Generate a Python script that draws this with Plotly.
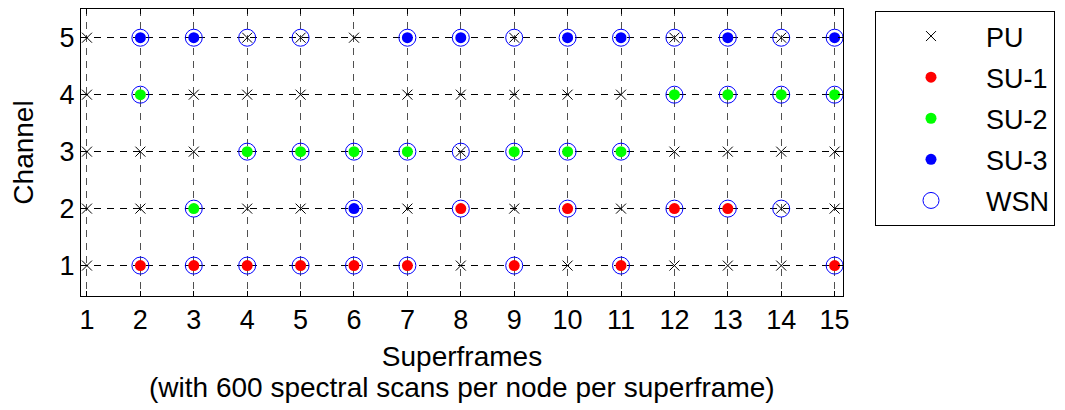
import plotly.graph_objects as go

# ---- data ----
superframes = list(range(1, 16))
channels = [1, 2, 3, 4, 5]

pu_x = [1, 4, 5, 6, 9, 12, 14,
        1, 3, 4, 5, 7, 8, 9, 10, 11,
        1, 2, 3, 8, 12, 13, 14, 15,
        1, 2, 4, 5, 7, 9, 11, 14, 15,
        1, 8, 10, 12, 13, 14]
pu_y = [5] * 7 + [4] * 9 + [3] * 8 + [2] * 9 + [1] * 6

su1_x = [2, 3, 4, 5, 6, 7, 8, 9, 10, 11, 12, 13, 15]
su1_y = [1, 1, 1, 1, 1, 1, 2, 1, 2, 1, 2, 2, 1]

su2_x = [2, 3, 4, 5, 6, 7, 9, 10, 11, 12, 13, 14, 15]
su2_y = [4, 2, 3, 3, 3, 3, 3, 3, 3, 4, 4, 4, 4]

su3_x = [2, 3, 6, 7, 8, 10, 11, 13, 15]
su3_y = [5, 5, 2, 5, 5, 5, 5, 5, 5]

wsn_extra_x = [4, 5, 9, 12, 14, 8, 14]
wsn_extra_y = [5, 5, 5, 5, 5, 3, 2]
wsn_x = su1_x + su2_x + su3_x + wsn_extra_x
wsn_y = su1_y + su2_y + su3_y + wsn_extra_y

FONT = "Liberation Sans, Arial, sans-serif"
FS_TICK = 27
FS_TITLE = 28
FS_LEG = 27

fig = go.Figure()
fig.add_trace(go.Scatter(x=pu_x, y=pu_y, mode="markers", name="PU", legendgroup="a",
                         marker=dict(symbol="x-thin-open", size=10, color="black",
                                     line=dict(width=1, color="black"))))
fig.add_trace(go.Scatter(x=su1_x, y=su1_y, mode="markers", name="SU-1", legendgroup="b",
                         marker=dict(symbol="circle", size=11, color="#FF0000", line=dict(width=0))))
fig.add_trace(go.Scatter(x=su2_x, y=su2_y, mode="markers", name="SU-2", legendgroup="c",
                         marker=dict(symbol="circle", size=11, color="#00FF00", line=dict(width=0))))
fig.add_trace(go.Scatter(x=su3_x, y=su3_y, mode="markers", name="SU-3", legendgroup="d",
                         marker=dict(symbol="circle", size=11, color="#0000FF", line=dict(width=0))))
fig.add_trace(go.Scatter(x=wsn_x, y=wsn_y, mode="markers", name="WSN", legendgroup="e",
                         marker=dict(symbol="circle-open", size=17, color="#0000FF",
                                     line=dict(width=1, color="#0000FF"))))

# page body has an 8px margin, so the figure is 8px smaller and shifted
fig.update_layout(
    width=1057, height=402,
    margin=dict(l=73, r=222, t=1, b=114, autoexpand=False),
    paper_bgcolor="white", plot_bgcolor="white",
    font=dict(family=FONT, size=FS_TICK, color="black"),
    showlegend=True,
    legend=dict(x=794 / 762, xanchor="left", y=285 / 287, yanchor="top",
                bordercolor="black", borderwidth=1, bgcolor="white",
                font=dict(size=FS_LEG), itemwidth=100, tracegroupgap=3,
                traceorder="grouped"),
    xaxis=dict(range=[0.888, 15.157], tickmode="array", tickvals=superframes,
               ticktext=[str(v) for v in superframes], automargin=False,
               showgrid=True, gridcolor="#505050", gridwidth=1, griddash="7px,6px",
               showline=True, linecolor="black", linewidth=1, mirror="ticks",
               ticks="inside", ticklen=5, tickcolor="black", zeroline=False,
               tickfont=dict(size=FS_TICK),
               title=dict(text="Superframes", standoff=11, font=dict(size=FS_TITLE))),
    yaxis=dict(range=[0.466, 5.504], tickmode="array", tickvals=channels,
               ticktext=[str(v) for v in channels], automargin=False,
               showgrid=True, gridcolor="black", gridwidth=1, griddash="7px,6px",
               showline=True, linecolor="black", linewidth=1, mirror="ticks",
               ticks="inside", ticklen=5, tickcolor="black", zeroline=False,
               tickfont=dict(size=FS_TICK),
               title=dict(text="Channel", standoff=20, font=dict(size=FS_TITLE))),
)
fig.add_annotation(text="(with 600 spectral scans per node per superframe)",
                   xref="paper", yref="paper", x=0.5, y=0.0, yshift=-91,
                   xanchor="center", yanchor="middle", showarrow=False,
                   font=dict(size=FS_TITLE, family=FONT, color="black"))

fig.write_html("out.html")
